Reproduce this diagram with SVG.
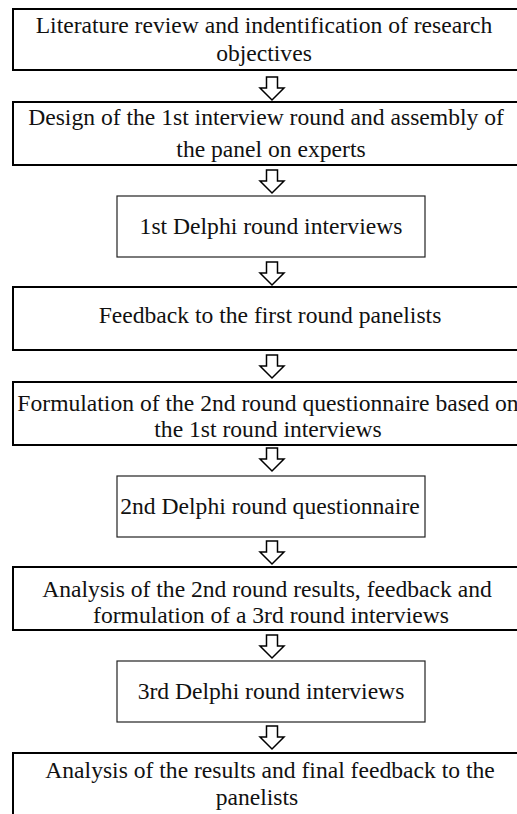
<svg xmlns="http://www.w3.org/2000/svg" width="517" height="814" viewBox="0 0 517 814">
<style>
.bg{fill:#fff}
.thick{fill:#fff;stroke:#000;stroke-width:2}
.thin{fill:#fff;stroke:#222;stroke-width:1.2}
.t{font-family:"Liberation Serif","Times New Roman",serif;font-size:23.6px;fill:#111;text-anchor:middle}
.arr{fill:#fff;stroke:#000;stroke-width:1.5;stroke-linejoin:miter}
</style>
<defs>
<path id="arrow" class="arr" d="M-5.5,0 H5.5 V11 H12 L0,23 L-12,11 H-5.5 Z"/>
</defs>
<rect class="bg" x="0" y="0" width="517" height="814"/>
<g id="connectors">
<use href="#arrow" x="272" y="77"/>
<use href="#arrow" x="272" y="170"/>
<use href="#arrow" x="272" y="262"/>
<use href="#arrow" x="272" y="355"/>
<use href="#arrow" x="272" y="448"/>
<use href="#arrow" x="272" y="541"/>
<use href="#arrow" x="272" y="635"/>
<use href="#arrow" x="272" y="726"/>
</g>
<g id="n1">
<rect class="thick" x="13" y="9" width="510" height="61"/>
<text class="t" x="264" y="33">Literature review and indentification of research</text>
<text class="t" x="264" y="61">objectives</text>
</g>
<g id="n2">
<rect class="thick" x="13" y="102" width="510" height="63"/>
<text class="t" x="266" y="125">Design of the 1st interview round and assembly of</text>
<text class="t" x="271" y="157">the panel on experts</text>
</g>
<g id="n3">
<rect class="thin" x="117" y="196" width="308" height="61"/>
<text class="t" x="271" y="234">1st Delphi round interviews</text>
</g>
<g id="n4">
<rect class="thick" x="13" y="287" width="510" height="63"/>
<text class="t" x="270" y="323">Feedback to the first round panelists</text>
</g>
<g id="n5">
<rect class="thick" x="13" y="382" width="510" height="63"/>
<text class="t" x="268" y="411">Formulation of the 2nd round questionnaire based on</text>
<text class="t" x="268" y="437">the 1st round interviews</text>
</g>
<g id="n6">
<rect class="thin" x="117" y="476" width="308" height="61"/>
<text class="t" x="270" y="514">2nd Delphi round questionnaire</text>
</g>
<g id="n7">
<rect class="thick" x="13" y="567" width="510" height="63"/>
<text class="t" x="267" y="597">Analysis of the 2nd round results, feedback and</text>
<text class="t" x="271" y="623">formulation of a 3rd round interviews</text>
</g>
<g id="n8">
<rect class="thin" x="117" y="661" width="308" height="61"/>
<text class="t" x="271" y="699">3rd Delphi round interviews</text>
</g>
<g id="n9">
<rect class="thick" x="13" y="753" width="510" height="70"/>
<text class="t" x="270" y="778">Analysis of the results and final feedback to the</text>
<text class="t" x="257" y="805">panelists</text>
</g>
</svg>
